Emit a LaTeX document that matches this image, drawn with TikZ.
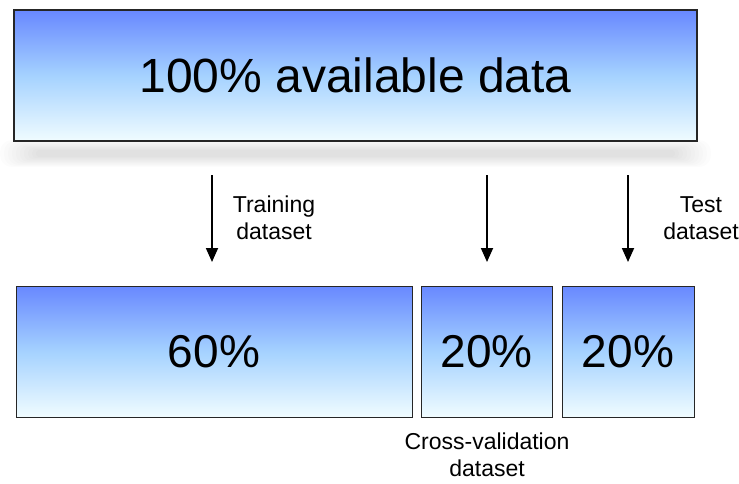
\documentclass[tikz,border=0pt]{standalone}
\usepackage{fontspec}
\setmainfont{Liberation Sans}
\usetikzlibrary{arrows.meta}
\definecolor{gradtop}{RGB}{104,136,255}
\definecolor{gradmid}{RGB}{165,210,255}
\definecolor{gradbot}{RGB}{240,252,255}
\tikzset{
  part/.style={draw=black!85, line width=1pt, top color=gradtop, bottom color=gradbot,
    middle color=gradmid, minimum height=131pt, inner sep=0pt,
    font=\fontsize{46}{50}\selectfont},
  flow/.style={line width=1.8pt, -{Triangle[length=14pt,width=12pt]}},
  caption/.style={font=\fontsize{23}{27}\selectfont, align=center, inner sep=0pt}
}
\begin{document}
\begin{tikzpicture}[x=1pt,y=-1pt]
\useasboundingbox (0,0) rectangle (739,483);
% soft blurred shadow under the top bar, built from stacked translucent layers
\foreach \i in {0,...,9} {
  \fill[black, opacity=0.011, rounded corners={12pt-\i pt}]
    ({0+4*\i},{140+1.1*\i}) rectangle ({711-4*\i},{167-1.1*\i});
}
% whole data set
\node[part, line width=2.6pt, minimum width=683pt, minimum height=131pt,
  font=\fontsize{48}{52}\selectfont] (all) at (355.5,75.5) {100\% available data};
% the three splits
\node[part, minimum width=396pt] (train) at (214,351.5) {60\%};
\node[part, minimum width=131pt] (cv) at (486.5,351.5) {20\%};
\node[part, minimum width=132pt] (test) at (628,351.5) {20\%};
% arrows from the data set to each split
\coordinate (a1s) at (212,175); \coordinate (a1e) at (212,262);
\coordinate (a2s) at (487,175); \coordinate (a2e) at (487,262);
\coordinate (a3s) at (628,175); \coordinate (a3e) at (628,262);
\draw[flow] (a1s) -- (a1e);
\draw[flow] (a2s) -- (a2e);
\draw[flow] (a3s) -- (a3e);
% labels
\node[caption] (ltrain) at (274,218) {Training\\dataset};
\node[caption] (ltest) at (701,218) {Test\\dataset};
\node[caption] (lcv) at (487,455) {Cross-validation\\dataset};
\end{tikzpicture}
\end{document}
